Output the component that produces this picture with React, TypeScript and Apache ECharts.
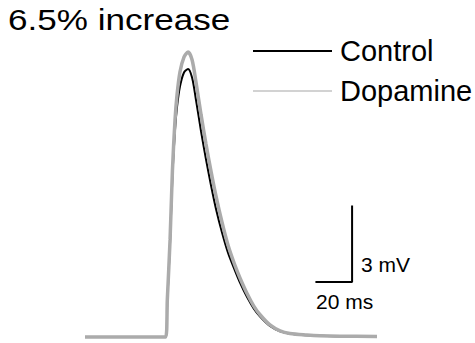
import React, { useEffect, useRef } from "react";
import * as echarts from "echarts";

// time axis (ms) and membrane potential (mV)
const timeMs = [0, 44.0, 44.9, 46.4, 47.7, 49.1, 50.2, 51.8, 54.0, 56.2, 58.4, 60.6, 63.3, 66.0, 68.7, 71.5, 74.7, 78.0, 81.8, 84.6, 88.4, 92.0, 95.5, 100.9, 106.4, 111.8, 121.1, 128.2, 139.1, 159.3];
const controlMv = [0, 0, 1.4, 3.7, 6.3, 8.1, 9.0, 9.8, 10.35, 10.49, 10.15, 9.25, 8.05, 6.95, 5.95, 5.0, 4.1, 3.3, 2.6, 2.12, 1.56, 1.12, 0.8, 0.43, 0.22, 0.13, 0.07, 0.05, 0.03, 0.02];
const dopamineMv = [0, 0, 1.45, 3.8, 6.53, 8.49, 9.47, 10.37, 10.95, 11.15, 10.85, 9.95, 8.7, 7.55, 6.5, 5.5, 4.5, 3.6, 2.8, 2.3, 1.7, 1.22, 0.87, 0.47, 0.24, 0.14, 0.08, 0.05, 0.03, 0.02];

// scale bar: 20 ms horizontal, 3 mV vertical
const scaleBarMs = [125.7, 145.7, 145.7];
const scaleBarMv = [2.15, 2.15, 5.15];

const seriesNames = ["Control", "Dopamine"];
const titleText = "6.5% increase";
const scaleLabels = ["3 mV", "20 ms"];

export default function App() {
  const ref = useRef<HTMLDivElement>(null);
  useEffect(() => {
    if (!ref.current) return;
    const chart = echarts.init(ref.current, null, { renderer: "svg" });
    const font = "Liberation Sans, Arial, Helvetica, sans-serif";
    const control = timeMs.map((t, i) => [t, controlMv[i]]);
    const dopamine = timeMs.map((t, i) => [t, dopamineMv[i]]);
    const bar = scaleBarMs.map((t, i) => [t, scaleBarMv[i]]);
    chart.setOption({
      animation: false,
      backgroundColor: "#ffffff",
      grid: { left: 85, right: 96.7, top: 43.1, bottom: 0.9 },
      xAxis: { type: "value", min: 0, max: 160, show: false },
      yAxis: { type: "value", min: -0.2, max: 11.5, show: false },
      legend: {
        orient: "vertical",
        left: 253,
        top: 36,
        padding: 0,
        itemWidth: 79,
        itemHeight: 2,
        itemGap: 10,
        textStyle: { fontFamily: font, fontSize: 29, color: "#000", lineHeight: 30, padding: [0, 0, 0, 3] },
        data: [
          { name: seriesNames[0], icon: "rect", itemStyle: { color: "#000" } },
          { name: seriesNames[1], icon: "rect", itemStyle: { color: "#d2d2d2" } },
        ],
      },
      series: [
        {
          name: seriesNames[0],
          type: "line",
          data: control,
          smooth: 0.3,
          showSymbol: false,
          symbol: "none",
          clip: false,
          lineStyle: { color: "#000", width: 2 },
          z: 2,
        },
        {
          name: seriesNames[1],
          type: "line",
          data: dopamine,
          smooth: 0.3,
          showSymbol: false,
          symbol: "none",
          clip: false,
          lineStyle: { color: "#ababab", width: 3.5 },
          z: 3,
        },
        {
          name: "scale",
          type: "line",
          data: bar,
          showSymbol: false,
          symbol: "none",
          clip: false,
          lineStyle: { color: "#000", width: 2 },
          z: 4,
        },
      ],
      graphic: [
        {
          type: "text",
          x: 8,
          y: 6,
          scaleX: 1.21,
          style: { text: titleText, font: `29px ${font}`, fill: "#000" },
        },
        {
          type: "text",
          x: 361,
          y: 264,
          style: { text: scaleLabels[0], font: `21px ${font}`, fill: "#000", verticalAlign: "middle" },
        },
        {
          type: "text",
          x: 316,
          y: 301,
          style: { text: scaleLabels[1], font: `21px ${font}`, fill: "#000", verticalAlign: "middle" },
        },
      ],
    });
    return () => chart.dispose();
  }, []);
  return <div ref={ref} style={{ position: "fixed", left: 0, top: 0, width: 475, height: 343 }} />;
}
